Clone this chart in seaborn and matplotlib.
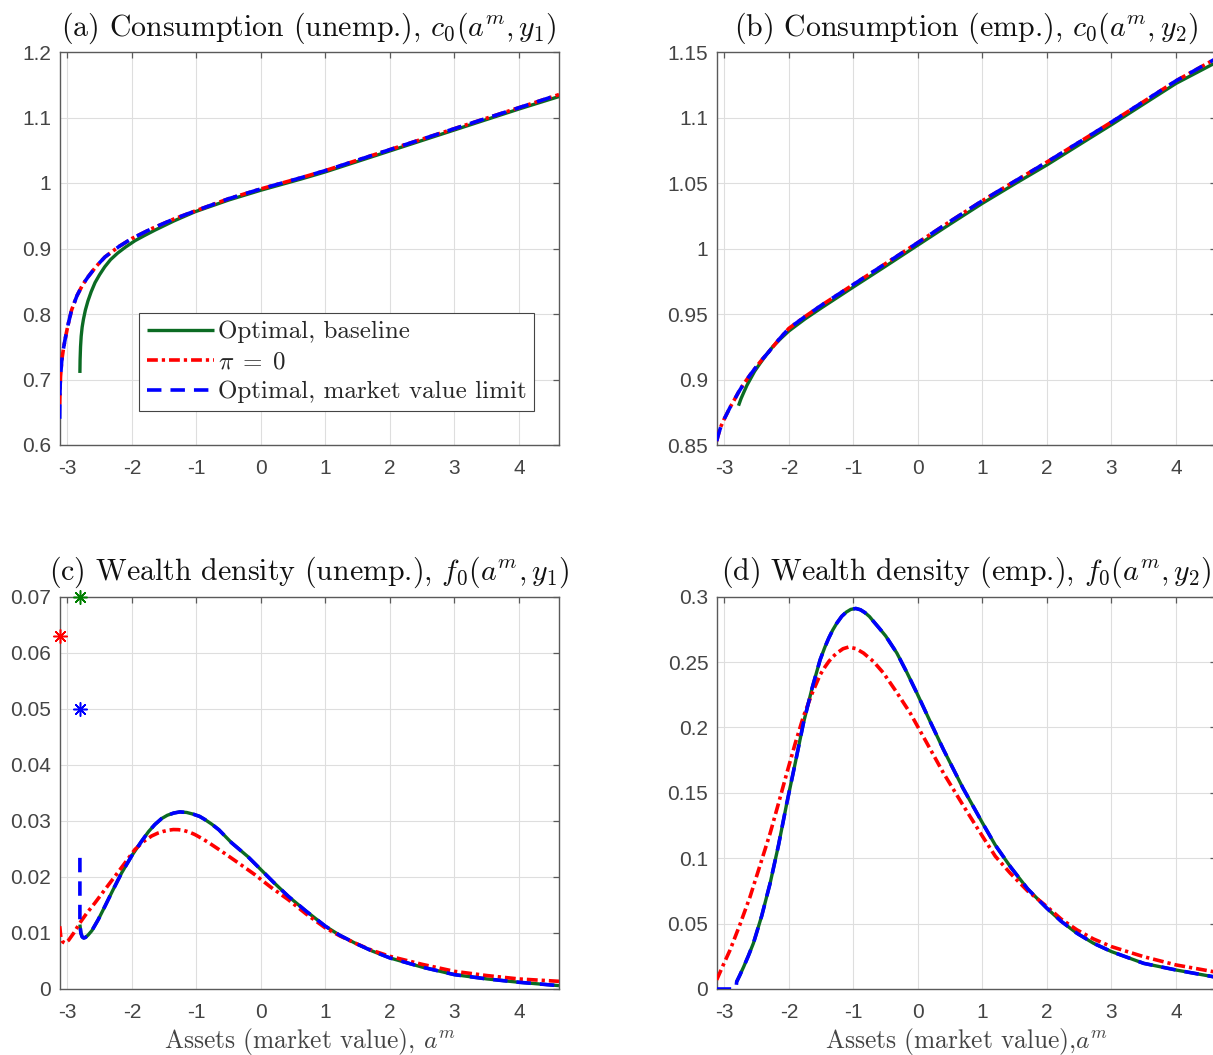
import matplotlib
matplotlib.use("Agg")
import matplotlib.pyplot as plt
from matplotlib.ticker import FixedLocator, FixedFormatter
import seaborn as sns

# ---------------------------------------------------------------------------
# Data
# ---------------------------------------------------------------------------
# (a) consumption, unemployed
c1_base_x = [-2.805, -2.802, -2.795, -2.785, -2.77, -2.75, -2.72, -2.68, -2.63,
             -2.57, -2.50, -2.42, -2.33, -2.22, -2.10, -1.95, -1.80, -1.643,
             -1.35, -1.023, -0.5, 0.0, 0.62, 1.0, 1.5, 2.0, 2.5, 3.0, 3.5, 4.0,
             4.62]
c1_base_y = [0.710, 0.730, 0.750, 0.766, 0.780, 0.792, 0.806, 0.820, 0.834,
             0.848, 0.860, 0.872, 0.883, 0.893, 0.902, 0.912, 0.920, 0.928,
             0.942, 0.956, 0.974, 0.989, 1.006, 1.017, 1.033, 1.049, 1.065,
             1.081, 1.097, 1.113, 1.132]
c1_pi0_x = [-3.118, -3.114, -3.105, -3.085, -3.06, -3.037, -2.99, -2.934, -2.85,
            -2.76, -2.676, -2.55, -2.417, -2.2, -2.004, -1.7, -1.35, -1.0, -0.5,
            0.0, 0.62, 1.0, 1.5, 2.0, 2.5, 3.0, 3.5, 4.0, 4.62]
c1_pi0_y = [0.662, 0.682, 0.705, 0.730, 0.747, 0.760, 0.783, 0.806, 0.828,
            0.845, 0.857, 0.873, 0.887, 0.903, 0.915, 0.930, 0.945, 0.958, 0.976,
            0.991, 1.008, 1.019, 1.035, 1.051, 1.067, 1.083, 1.099, 1.115, 1.135]
c1_mkt_x = [-3.118, -3.114, -3.105, -3.085, -3.06, -3.037, -2.99, -2.934, -2.85,
            -2.76, -2.676, -2.55, -2.417, -2.2, -2.004, -1.7, -1.35, -1.0, -0.5,
            0.0, 0.62, 1.0, 1.5, 2.0, 2.5, 3.0, 3.5, 4.0, 4.62]
c1_mkt_y = [0.640, 0.682, 0.705, 0.730, 0.747, 0.760, 0.783, 0.806, 0.828,
            0.845, 0.857, 0.873, 0.887, 0.903, 0.915, 0.930, 0.945, 0.958, 0.976,
            0.991, 1.008, 1.019, 1.035, 1.051, 1.067, 1.083, 1.099, 1.115, 1.135]

# (b) consumption, employed
c2_base_x = [-2.78, -2.74, -2.70, -2.65, -2.60, -2.53, -2.45, -2.35, -2.25,
             -2.12, -2.0, -1.75, -1.5, -1.0, -0.5, 0.0, 0.5, 1.0, 1.5, 2.0, 2.5,
             3.0, 3.5, 4.0, 4.62]
c2_base_y = [0.880, 0.8855, 0.890, 0.8955, 0.900, 0.9063, 0.912, 0.9188, 0.925,
             0.9315, 0.937, 0.9462, 0.9545, 0.9706, 0.9865, 1.0026, 1.0187,
             1.0345, 1.0493, 1.0638, 1.0792, 1.0945, 1.1103, 1.1260, 1.1420]
c2_pi0_x = [-3.118, -3.10, -3.08, -3.05, -3.01, -2.963, -2.91, -2.85, -2.78,
            -2.70, -2.60, -2.50, -2.41, -2.316, -2.16, -2.0, -1.75, -1.5, -1.0,
            -0.5, 0.0, 0.5, 1.0, 1.5, 2.0, 2.5, 3.0, 3.5, 4.0, 4.62]
c2_pi0_y = [0.853, 0.8565, 0.860, 0.8645, 0.869, 0.8736, 0.8788, 0.884, 0.8903,
            0.8966, 0.9035, 0.910, 0.9155, 0.9208, 0.9302, 0.9390, 0.9480,
            0.9565, 0.9725, 0.9885, 1.0045, 1.0207, 1.0365, 1.0513, 1.0660,
            1.0812, 1.0965, 1.1122, 1.1280, 1.1450]
c2_mkt_x = list(c2_pi0_x)
c2_mkt_y = list(c2_pi0_y)

# (c) wealth density, unemployed
f1_base_x = [-2.805, -2.79, -2.77, -2.745, -2.72, -2.68, -2.62, -2.52, -2.417,
             -2.30, -2.159, -2.0, -1.849, -1.74, -1.643, -1.54, -1.45, -1.35,
             -1.255, -1.15, -1.05, -0.95, -0.868, -0.76, -0.65, -0.455, -0.2,
             0.0, 0.2, 0.4236, 0.7, 1.0, 1.22, 1.457, 1.72, 2.0, 2.5, 3.0, 3.5,
             4.0, 4.62]
f1_base_y = [0.0115, 0.0100, 0.0093, 0.0091, 0.0092, 0.0096, 0.0104, 0.0124,
             0.01476, 0.0175, 0.0207, 0.0238, 0.02637, 0.0281, 0.02935, 0.0304,
             0.0310, 0.0314, 0.0316, 0.0315, 0.0312, 0.0308, 0.03024, 0.0294,
             0.0284, 0.0261, 0.0236, 0.0213, 0.0190, 0.01655, 0.0139, 0.0112,
             0.0096, 0.0082, 0.0068, 0.00554, 0.0039, 0.00256, 0.0018, 0.0012,
             0.0006]
f1_pi0_x = [-3.118, -3.10, -3.07, -3.037, -2.98, -2.90, -2.805, -2.70, -2.572,
            -2.42, -2.262, -2.10, -1.952, -1.82, -1.694, -1.60, -1.52, -1.44,
            -1.358, -1.28, -1.2, -1.11, -1.023, -0.92, -0.82, -0.61, -0.35,
            -0.093, 0.15, 0.4236, 0.7, 1.0, 1.22, 1.457, 1.72, 2.0, 2.5, 3.0,
            3.5, 4.0, 4.62]
f1_pi0_y = [0.0112, 0.0092, 0.0084, 0.0082, 0.0087, 0.0100, 0.0118, 0.0135,
            0.01536, 0.0177, 0.0201, 0.0226, 0.0249, 0.0263, 0.0273, 0.0278,
            0.0281, 0.02832, 0.02845, 0.02843, 0.0283, 0.0280, 0.02756, 0.0269,
            0.0262, 0.02458, 0.0225, 0.0204, 0.0182, 0.01595, 0.0134, 0.01089,
            0.0095, 0.0082, 0.0069, 0.00583, 0.0044, 0.00315, 0.0024, 0.00179,
            0.00137]
f1_mkt_x = [-2.805] + f1_base_x
f1_mkt_y = [0.0234] + f1_base_y

# point masses at the borrowing limit
mass_x = {"base": -2.805, "pi0": -3.118, "mkt": -2.805}
mass_y = {"base": 0.0699, "pi0": 0.0629, "mkt": 0.0499}

# (d) wealth density, employed
f2_base_x = [-2.808, -2.76, -2.70, -2.63, -2.549, -2.42, -2.29, -2.16, -2.032,
             -1.90, -1.774, -1.64, -1.515, -1.44, -1.38, -1.32, -1.256, -1.18,
             -1.11, -1.04, -0.962, -0.89, -0.82, -0.75, -0.688, -0.60, -0.50,
             -0.326, -0.17, -0.0155, 0.2, 0.398, 0.7, 1.003, 1.2, 1.432, 1.7,
             2.0, 2.22, 2.466, 2.72, 3.0, 3.5, 4.0, 4.62]
f2_base_y = [0.0056, 0.0105, 0.017, 0.025, 0.035, 0.056, 0.0809, 0.110, 0.142,
             0.173, 0.2033, 0.230, 0.2518, 0.2616, 0.2685, 0.2745, 0.2798,
             0.2850, 0.2882, 0.2903, 0.2910, 0.2900, 0.2878, 0.2848, 0.2811,
             0.2760, 0.2700, 0.2569, 0.242, 0.2263, 0.2035, 0.1829, 0.1535,
             0.1268, 0.110, 0.0936, 0.0766, 0.0617, 0.0518, 0.0426, 0.0350,
             0.0286, 0.0196, 0.01454, 0.0090]
f2_pi0_x = [-3.118, -3.02, -2.911, -2.76, -2.6, -2.45, -2.29, -2.16, -2.032,
            -1.90, -1.774, -1.64, -1.515, -1.44, -1.38, -1.32, -1.256, -1.16,
            -1.075, -0.96, -0.843, -0.69, -0.533, -0.33, -0.119, 0.14, 0.398,
            0.7, 1.003, 1.2, 1.432, 1.7, 2.0, 2.22, 2.466, 2.72, 3.0, 3.5, 4.0,
            4.62]
f2_pi0_y = [0.007, 0.018, 0.0298, 0.049, 0.0707, 0.094, 0.1191, 0.142, 0.165,
            0.188, 0.2084, 0.226, 0.2403, 0.2463, 0.2505, 0.2540, 0.2569,
            0.2602, 0.2615, 0.2603, 0.2569, 0.2505, 0.2416, 0.227, 0.211, 0.188,
            0.165, 0.1405, 0.1166, 0.1015, 0.0885, 0.075, 0.063, 0.0535, 0.0452,
            0.0383, 0.0324, 0.0247, 0.0184, 0.0129]
f2_mkt_x = [-3.118, -2.82] + f2_base_x
f2_mkt_y = [0.0, 0.0] + f2_base_y

series_labels = [r"Optimal, baseline", r"$\pi\;=\;0$",
                 r"Optimal, market value limit"]
titles = [r"(a) Consumption (unemp.), $c_0(a^m, y_1)$",
          r"(b) Consumption (emp.), $c_0(a^m, y_2)$",
          r"(c) Wealth density (unemp.), $f_0(a^m, y_1)$",
          r"(d) Wealth density (emp.), $f_0(a^m, y_2)$"]
xlabels = [r"Assets (market value), $a^m$", r"Assets (market value),$a^m$"]

x_ticks = [-3, -2, -1, 0, 1, 2, 3, 4]
y_ticks = {
    "a": ["0.6", "0.7", "0.8", "0.9", "1", "1.1", "1.2"],
    "b": ["0.85", "0.9", "0.95", "1", "1.05", "1.1", "1.15"],
    "c": ["0", "0.01", "0.02", "0.03", "0.04", "0.05", "0.06", "0.07"],
    "d": ["0", "0.05", "0.1", "0.15", "0.2", "0.25", "0.3"],
}
x_range = (-3.118, 4.62)
y_ranges = {"a": (0.6, 1.2), "b": (0.85, 1.15), "c": (0.0, 0.07), "d": (0.0, 0.3)}

# ---------------------------------------------------------------------------
# Style
# ---------------------------------------------------------------------------
sns.set_theme(style="white")
plt.rcParams["font.family"] = ["Liberation Sans", "DejaVu Sans"]
plt.rcParams["mathtext.fontset"] = "cm"

GREEN = "#0b6b23"
GREEN_MK = "#008000"
RED = "#ff0000"
BLUE = "#0000ff"
AX_COL = "#5a5a5a"
TXT_COL = "#444444"
SERIF = "cmr10"

fig = plt.figure(figsize=(12.13, 10.55), dpi=100)
W, H = 1213.0, 1055.0
boxes = {
    "a": (59.7, 52.0, 499.3, 393.0),
    "b": (716.7, 52.0, 499.3, 393.0),
    "c": (59.7, 596.7, 499.3, 392.3),
    "d": (716.7, 596.7, 499.3, 392.3),
}
axes = {}
for key, (l, t, w, h) in boxes.items():
    axes[key] = fig.add_axes([l / W, 1 - (t + h) / H, w / W, h / H])


def draw(ax, x, y, color, lw, dash, label=None, zorder=2):
    sns.lineplot(x=x, y=y, ax=ax, color=color, sort=False, estimator=None,
                 label=label, legend=False, zorder=zorder)
    line = ax.lines[-1]
    line.set_linewidth(lw)
    line.set_solid_capstyle("butt")
    line.set_dash_capstyle("butt")
    line.set_solid_joinstyle("round")
    if dash is not None:
        line.set_dashes(dash)
    return line


DASH_RED = (3.0, 1.1, 0.9, 1.1)
DASH_BLUE = (4.0, 2.5)

# (a)
ax = axes["a"]
h1 = draw(ax, c1_base_x, c1_base_y, GREEN, 2.4, None, series_labels[0])
h2 = draw(ax, c1_pi0_x, c1_pi0_y, RED, 2.6, DASH_RED, series_labels[1], 3)
h3 = draw(ax, c1_mkt_x, c1_mkt_y, BLUE, 2.6, DASH_BLUE, series_labels[2], 4)
leg = ax.legend(handles=[h1, h2, h3], loc="upper left",
                bbox_to_anchor=(0.159, 0.335), prop={"family": SERIF, "size": 18},
                frameon=True, fancybox=False, framealpha=1, edgecolor="#444444",
                handlelength=2.7, handletextpad=0.15, borderpad=0.3,
                labelspacing=0.3, borderaxespad=0.0)
leg.get_frame().set_linewidth(0.8)

# (b)
ax = axes["b"]
draw(ax, c2_base_x, c2_base_y, GREEN, 2.4, None)
draw(ax, c2_pi0_x, c2_pi0_y, RED, 2.6, DASH_RED, zorder=3)
draw(ax, c2_mkt_x, c2_mkt_y, BLUE, 2.6, DASH_BLUE, zorder=4)

# (c)
ax = axes["c"]
draw(ax, f1_base_x, f1_base_y, GREEN, 2.4, None)
draw(ax, f1_pi0_x, f1_pi0_y, RED, 2.6, DASH_RED, zorder=3)
draw(ax, f1_mkt_x, f1_mkt_y, BLUE, 2.6, DASH_BLUE, zorder=4)
for k, col in (("base", GREEN_MK), ("pi0", RED), ("mkt", BLUE)):
    sns.scatterplot(x=[mass_x[k]], y=[mass_y[k]], ax=ax, marker=(8, 2, 0),
                    s=95, color=col, edgecolor=col, linewidth=1.1,
                    legend=False, zorder=5, clip_on=False)

# (d)
ax = axes["d"]
draw(ax, f2_base_x, f2_base_y, GREEN, 2.4, None)
draw(ax, f2_pi0_x, f2_pi0_y, RED, 2.6, DASH_RED, zorder=3)
draw(ax, f2_mkt_x, f2_mkt_y, BLUE, 2.6, DASH_BLUE, zorder=4)

# ---------------------------------------------------------------------------
# Axes cosmetics
# ---------------------------------------------------------------------------
for i, key in enumerate(["a", "b", "c", "d"]):
    ax = axes[key]
    ax.set_xlim(*x_range)
    ax.set_ylim(*y_ranges[key])
    ax.xaxis.set_major_locator(FixedLocator(x_ticks))
    ax.xaxis.set_major_formatter(FixedFormatter([f"{t:d}" for t in x_ticks]))
    yt = [float(v) for v in y_ticks[key]]
    ax.yaxis.set_major_locator(FixedLocator(yt))
    ax.yaxis.set_major_formatter(FixedFormatter(y_ticks[key]))
    ax.grid(True, color="#dedede", linewidth=0.8)
    ax.set_axisbelow(True)
    for sp in ax.spines.values():
        sp.set_visible(True)
        sp.set_color(AX_COL)
        sp.set_linewidth(1.0)
    ax.tick_params(axis="both", which="major", direction="in", length=4.5,
                   width=0.9, color=AX_COL, top=True, right=True,
                   labelsize=15, labelcolor=TXT_COL)
    ax.tick_params(axis="x", pad=10)
    ax.tick_params(axis="y", pad=6)
    ax.set_title(titles[i], fontfamily=SERIF, fontsize=21.5, color="#111111",
                 pad=12)
    ax.set_xlabel("")
    ax.set_ylabel("")

axes["c"].set_xlabel(xlabels[0], fontfamily=SERIF, fontsize=18.3,
                     color="#444444", labelpad=3)
axes["d"].set_xlabel(xlabels[1], fontfamily=SERIF, fontsize=18.3,
                     color="#444444", labelpad=3)

fig.savefig("out.png", dpi=100)
